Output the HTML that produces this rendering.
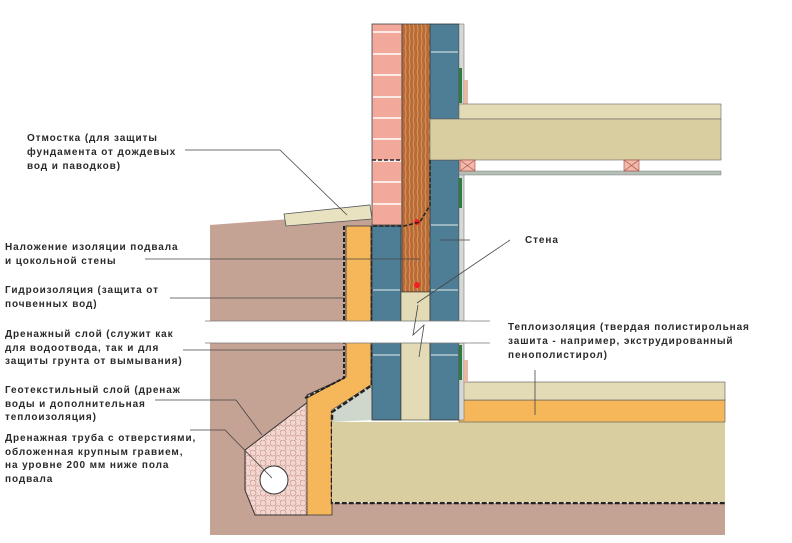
<!DOCTYPE html>
<html><head><meta charset="utf-8"><style>
body{margin:0;background:#fff;}
svg{display:block}
text{font-family:"Liberation Sans","DejaVu Sans",sans-serif;font-size:10px;font-weight:bold;fill:#2a2a2a;letter-spacing:0.9px}
</style></head><body>
<svg width="792" height="543" viewBox="0 0 792 543" xmlns="http://www.w3.org/2000/svg">
<defs>
<pattern id="grav" width="10" height="10" patternUnits="userSpaceOnUse">
<rect width="10" height="10" fill="#f3d6cf"/>
<circle cx="3" cy="3" r="3" fill="none" stroke="#c89a90" stroke-width="0.8"/>
<circle cx="8" cy="8" r="2.5" fill="none" stroke="#c89a90" stroke-width="0.8"/>
</pattern>
<pattern id="wood" width="8" height="12" patternUnits="userSpaceOnUse">
<rect width="8" height="12" fill="#b86a36"/>
<path d="M1 0 Q3 6 1 12 M5 0 Q7 6 5 12" stroke="#d99a5e" stroke-width="1" fill="none"/>
</pattern>
</defs>
<!-- soil -->
<polygon points="210,225 370,213 372,225 372,420 330,420 330,535 210,535" fill="#c5a394"/>
<rect x="210" y="503" width="515" height="32" fill="#c5a394"/>
<!-- otmostka -->
<polygon points="284,214 370,205 372,219 286,226" fill="#e8e2c0" stroke="#555" stroke-width="0.8"/>
<!-- gravel -->
<polygon points="245,450 330,385 347,377 307,395 307,515 255,515 245,490" fill="url(#grav)" stroke="#333" stroke-width="1"/>
<circle cx="274" cy="480" r="14" fill="#fff" stroke="#333" stroke-width="1"/>
<!-- orange insulation -->
<polygon points="346,226 371,226 371,385 332,410 332,515 307,515 307,398 346,377" fill="#f5b75a" stroke="#333" stroke-width="0.8"/>
<polygon points="332,410 371,385 372,420 332,422" fill="#cfd6cc"/>
<path d="M344,226 V378 L305,398" fill="none" stroke="#222" stroke-width="2" stroke-dasharray="4,2"/>
<path d="M372,226 V385 L332,412 V503 H725" fill="none" stroke="#222" stroke-width="2.5" stroke-dasharray="5,2"/>
<!-- basement slab -->
<rect x="332" y="422" width="393" height="80" fill="#d8ce9f"/>
<rect x="459" y="400" width="266" height="22" fill="#f5b75a" stroke="#555" stroke-width="0.6"/>
<rect x="459" y="382" width="266" height="18" fill="#e3dbb6" stroke="#555" stroke-width="0.6"/>
<!-- brick -->
<rect x="372" y="24" width="30" height="201" fill="#f2a89a" stroke="#444" stroke-width="0.8"/>
<g stroke="#fff" stroke-width="1.5">
<line x1="373" y1="32" x2="401" y2="32"/><line x1="373" y1="54" x2="401" y2="54"/><line x1="373" y1="75" x2="401" y2="75"/><line x1="373" y1="97" x2="401" y2="97"/><line x1="373" y1="118" x2="401" y2="118"/><line x1="373" y1="139" x2="401" y2="139"/><line x1="373" y1="161" x2="401" y2="161"/><line x1="373" y1="182" x2="401" y2="182"/><line x1="373" y1="204" x2="401" y2="204"/>
</g>
<!-- wood -->
<rect x="402" y="24" width="28" height="268" fill="url(#wood)" stroke="#444" stroke-width="0.8"/>
<circle cx="417" cy="222" r="3" fill="#e22"/><circle cx="417" cy="285" r="3" fill="#e22"/>
<!-- lower blue left -->
<rect x="372" y="226" width="29" height="194" fill="#4e7e96" stroke="#333" stroke-width="0.8"/>
<rect x="401" y="292" width="29" height="128" fill="#e3dbb6" stroke="#333" stroke-width="0.6"/>
<!-- right blue -->
<rect x="430" y="24" width="29" height="95" fill="#4e7e96" stroke="#333" stroke-width="0.8"/>
<rect x="430" y="160" width="29" height="260" fill="#4e7e96" stroke="#333" stroke-width="0.8"/>
<g stroke="#c8d8dc" stroke-width="1.3">
<line x1="431" y1="52" x2="458" y2="52"/><line x1="431" y1="225" x2="458" y2="225"/><line x1="431" y1="290" x2="458" y2="290"/><line x1="431" y1="355" x2="458" y2="355"/>
<line x1="373" y1="290" x2="400" y2="290"/><line x1="373" y1="355" x2="400" y2="355"/>
</g>
<rect x="459" y="24" width="5" height="396" fill="#d5d9d6" stroke="#666" stroke-width="0.5"/>
<rect x="459" y="68" width="3" height="35" fill="#2e7d3e"/><rect x="459" y="178" width="3" height="30" fill="#2e7d3e"/><rect x="459" y="345" width="3" height="35" fill="#2e7d3e"/>
<rect x="464" y="80" width="4" height="24" fill="#e8b9a0"/><rect x="464" y="360" width="4" height="22" fill="#e8b9a0"/>
<!-- upper floor -->
<rect x="459" y="104" width="262" height="15" fill="#e3dbb6" stroke="#666" stroke-width="0.6"/>
<rect x="430" y="119" width="291" height="41" fill="#d8ce9f" stroke="#666" stroke-width="0.6"/>
<rect x="459" y="171" width="262" height="4" fill="#b4c0b6" stroke="#666" stroke-width="0.4"/>
<g stroke="#a55" stroke-width="0.7" fill="#f2b8a8"><rect x="460" y="160" width="15" height="11"/><rect x="624" y="160" width="15" height="11"/>
<path d="M460,160 L475,171 M475,160 L460,171 M624,160 L639,171 M639,160 L624,171" fill="none"/></g>
<path d="M372,160 H402 M430,160 L430,205 L420,222 L404,226 H372" fill="none" stroke="#222" stroke-width="1.5" stroke-dasharray="4,2"/>
<!-- break band -->
<rect x="205" y="321" width="285" height="22" fill="#fff"/>
<line x1="205" y1="321" x2="490" y2="321" stroke="#777" stroke-width="0.8"/>
<line x1="205" y1="343" x2="490" y2="343" stroke="#777" stroke-width="0.8"/>
<path d="M418,305 L413,335 L424,325 L419,357" fill="none" stroke="#444" stroke-width="0.8"/>
<!-- leaders -->
<g stroke="#444" stroke-width="0.8" fill="none">
<path d="M185,150 H280 L347,215"/>
<path d="M145,259 H420"/>
<path d="M170,298 H345"/>
<path d="M183,350 H345"/>
<path d="M155,400 H236 L262,435"/>
<path d="M190,430 H225 L272,478"/>
<path d="M510,240 L417,303"/>
<path d="M440,240 H470"/>
<path d="M535,370 V415"/>
</g>
<!-- labels -->
<text x="27" y="141">Отмостка (для защиты</text>
<text x="27" y="155">фундамента от дождевых</text>
<text x="27" y="169">вод и паводков)</text>
<text x="5" y="250">Наложение изоляции подвала</text>
<text x="5" y="264">и цокольной стены</text>
<text x="5" y="293">Гидроизоляция (защита от</text>
<text x="5" y="307">почвенных вод)</text>
<text x="5" y="337">Дренажный слой (служит как</text>
<text x="5" y="351">для водоотвода, так и для</text>
<text x="5" y="364">защиты грунта от вымывания)</text>
<text x="5" y="393">Геотекстильный слой (дренаж</text>
<text x="5" y="407">воды и дополнительная</text>
<text x="5" y="420">теплоизоляция)</text>
<text x="5" y="441">Дренажная труба с отверстиями,</text>
<text x="5" y="455">обложенная крупным гравием,</text>
<text x="5" y="468">на уровне 200 мм ниже пола</text>
<text x="5" y="482">подвала</text>
<text x="525" y="243">Стена</text>
<text x="508" y="330">Теплоизоляция (твердая полистирольная</text>
<text x="508" y="344">зашита - например, экструдированный</text>
<text x="508" y="358">пенополистирол)</text>
</svg>
</body></html>
